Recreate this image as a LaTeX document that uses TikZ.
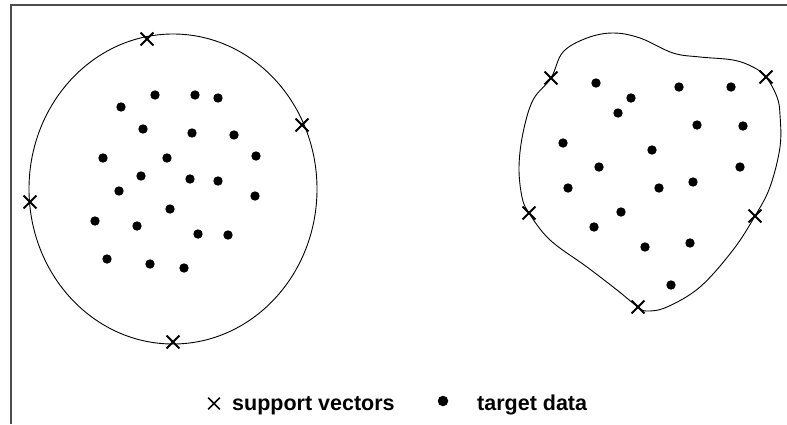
\documentclass[tikz,border=0pt]{standalone}
\usepackage{fontspec}
\setmainfont{Liberation Sans}
\usetikzlibrary{shapes.misc}
\tikzset{
  dot/.style={circle, fill=black, inner sep=0pt, minimum size=9.4pt},
  sv/.style={cross out, draw=black, line width=1.9pt, inner sep=0pt, minimum size=11pt},
  boundary/.style={draw=black, line width=0.9pt},
  frameline/.style={draw=black!70, line width=2pt},
  legendtext/.style={anchor=base west, inner sep=0pt, font=\bfseries\fontsize{21.5}{24}\selectfont}
}
\begin{document}
\begin{tikzpicture}[x=1pt, y=-1pt]
\useasboundingbox (0,0) rectangle (787,424);
\fill[white] (0,0) rectangle (787,424);

% panel frame (top and left edges)
\draw[frameline] (11,424) -- (11,4.5) -- (787,4.5);

% ---- left: spherical boundary ----
\draw[boundary] (173,189) ellipse [x radius=144, y radius=155];
\foreach \x/\y [count=\i] in {
  121/107, 155/95, 195/95, 218/98, 143/129, 192/133, 234/135, 103/158,
  167/158, 256/156, 141/176, 190/179, 218/181, 119/191, 255/196, 170/209,
  95/221, 137/226, 198/234, 228/235, 107/259, 150/264, 184/268}
  \node[dot] (ld\i) at (\x,\y) {};
\foreach \x/\y [count=\i] in {147/39, 302/125, 30/202, 173/342}
  \node[sv] (lsv\i) at (\x,\y) {};

% ---- right: flexible boundary ----
\draw[boundary] plot[smooth cycle, tension=0.6] coordinates {
  (551,78) (563,52) (587,38) (613,33) (640,38) (673,53) (700,57) (733,60)
  (753,67) (766,77) (777,97) (780,115) (780,147) (770,187) (755,216)
  (733,250) (700,287) (667,307) (647,311) (638,307) (617,290) (587,267)
  (550,240) (529,213) (522,197) (519,167) (523,133) (533,100)};
\foreach \x/\y [count=\i] in {
  596/83, 631/98, 618/113, 679/87, 731/87, 697/125, 743/126, 563/143,
  652/150, 599/167, 740/167, 568/188, 659/188, 693/182, 621/212, 594/227,
  645/247, 690/243, 671/285}
  \node[dot] (rd\i) at (\x,\y) {};
\foreach \x/\y [count=\i] in {551/78, 766/77, 529/213, 755/216, 638/307}
  \node[sv] (rsv\i) at (\x,\y) {};

% ---- legend ----
\node[cross out, draw=black, line width=1.7pt, inner sep=0pt, minimum size=10pt] (keysv) at (214,403.5) {};
\node[legendtext] (svtext) at (232,410) {support vectors};
\node[dot, minimum size=10.5pt] (keydot) at (443,401) {};
\node[legendtext] (tdtext) at (477,410) {target data};
\end{tikzpicture}
\end{document}
